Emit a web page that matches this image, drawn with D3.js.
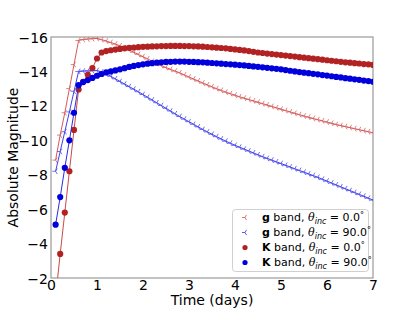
<!DOCTYPE html>
<html><head><meta charset="utf-8">
<script src="https://cdn.jsdelivr.net/npm/d3@7"></script>
<style>
body{margin:0;background:#fff;}
svg{display:block;font-family:"DejaVu Sans",sans-serif;}
</style></head>
<body><svg id="c" width="415" height="312"></svg>
<script>
const times = [0.1,0.2,0.3,0.4,0.5,0.6,0.7,0.8,0.9,1.0,1.1,1.2,1.3,1.4,1.5,1.6,1.7,1.8,1.9,2.0,
2.1,2.2,2.3,2.4,2.5,2.6,2.7,2.8,2.9,3.0,3.1,3.2,3.3,3.4,3.5,3.6,3.7,3.8,3.9,4.0,
4.1,4.2,4.3,4.4,4.5,4.6,4.7,4.8,4.9,5.0,5.1,5.2,5.3,5.4,5.5,5.6,5.7,5.8,5.9,6.0,
6.1,6.2,6.3,6.4,6.5,6.6,6.7,6.8,6.9,7.0];

const gBand0 = [-8.85,-10.3,-11.6,-13.0,-14.4,-15.8,-15.85,-15.88,-15.9,-15.92,
-15.85,-15.77,-15.68,-15.59,-15.49,-15.38,-15.25,-15.12,-14.99,-14.86,
-14.73,-14.59,-14.46,-14.34,-14.23,-14.12,-14.02,-13.92,-13.8,-13.68,
-13.56,-13.45,-13.33,-13.22,-13.11,-13.0,-12.9,-12.8,-12.71,-12.62,
-12.53,-12.45,-12.37,-12.29,-12.21,-12.13,-12.05,-11.97,-11.89,-11.81,
-11.73,-11.65,-11.57,-11.49,-11.41,-11.34,-11.27,-11.2,-11.13,-11.06,
-10.99,-10.92,-10.86,-10.8,-10.74,-10.68,-10.62,-10.56,-10.5,-10.44];

const gBand90 = [-8.2,-9.35,-10.5,-11.65,-12.85,-14.0,-14.02,-14.03,-14.04,-14.05,
-13.98,-13.86,-13.72,-13.57,-13.42,-13.27,-13.12,-12.97,-12.82,-12.66,
-12.5,-12.34,-12.18,-12.02,-11.86,-11.7,-11.54,-11.38,-11.23,-11.08,
-10.93,-10.78,-10.63,-10.49,-10.35,-10.21,-10.08,-9.95,-9.83,-9.71,
-9.6,-9.49,-9.38,-9.27,-9.16,-9.05,-8.95,-8.85,-8.75,-8.65,
-8.55,-8.45,-8.35,-8.25,-8.15,-8.05,-7.95,-7.85,-7.74,-7.63,
-7.52,-7.41,-7.3,-7.19,-7.08,-6.97,-6.86,-6.75,-6.64,-6.53];

const kBand0 = [-0.9,-3.4,-5.8,-8.2,-10.6,-12.95,-13.4,-13.8,-14.2,-14.75,
-15.1,-15.18,-15.23,-15.27,-15.31,-15.34,-15.37,-15.39,-15.41,-15.43,
-15.44,-15.45,-15.46,-15.47,-15.47,-15.48,-15.48,-15.48,-15.47,-15.47,
-15.46,-15.45,-15.44,-15.42,-15.4,-15.38,-15.36,-15.34,-15.31,-15.28,
-15.25,-15.22,-15.18,-15.14,-15.1,-15.07,-15.04,-15.01,-14.98,-14.95,
-14.92,-14.89,-14.86,-14.83,-14.8,-14.77,-14.74,-14.71,-14.68,-14.65,
-14.62,-14.59,-14.56,-14.53,-14.51,-14.48,-14.46,-14.43,-14.41,-14.38];

const kBand90 = [-5.1,-6.7,-8.4,-10.0,-11.6,-13.2,-13.38,-13.5,-13.62,-13.75,
-13.85,-13.94,-14.0,-14.06,-14.12,-14.19,-14.26,-14.32,-14.37,-14.41,
-14.45,-14.48,-14.51,-14.53,-14.55,-14.56,-14.57,-14.57,-14.57,-14.56,
-14.55,-14.54,-14.53,-14.51,-14.49,-14.47,-14.45,-14.43,-14.41,-14.39,
-14.37,-14.35,-14.32,-14.29,-14.27,-14.24,-14.21,-14.18,-14.15,-14.12,
-14.08,-14.04,-14.0,-13.96,-13.93,-13.9,-13.86,-13.83,-13.79,-13.76,
-13.72,-13.68,-13.65,-13.61,-13.58,-13.54,-13.51,-13.47,-13.44,-13.4];

const xTicks = [0,1,2,3,4,5,6,7];
const yTicks = [-16,-14,-12,-10,-8,-6,-4,-2];
const seriesNames = ["g band","g band","K band","K band"];
const seriesAngles = ["0.0","90.0","0.0","90.0"];

const svg = d3.select("#c");
const L = 51, R = 373, T = 37, B = 278;
const x = d3.scaleLinear().domain([0,7]).range([L,R]);
const y = d3.scaleLinear().domain([-16,-2]).range([T,B]);

svg.append("defs").append("clipPath").attr("id","clip")
  .append("rect").attr("x",L).attr("y",T).attr("width",R-L).attr("height",B-T);

// axes
const fmt = d => (d<0? "\u2212"+Math.abs(d) : String(d));
const xAxis = svg.append("g").attr("transform",`translate(0,${B})`)
  .call(d3.axisBottom(x).tickValues(xTicks).tickFormat(fmt).tickSize(0).tickPadding(2));
const yAxis = svg.append("g").attr("transform",`translate(${L},0)`)
  .call(d3.axisLeft(y).tickValues(yTicks).tickFormat(fmt).tickSize(0).tickPadding(3));
[xAxis,yAxis].forEach(a=>{
  a.select(".domain").remove();
  a.selectAll("text").attr("font-size",14).attr("fill","#000").attr("font-family","DejaVu Sans");
});
xAxis.selectAll("text").attr("dy","0.72em");
yAxis.selectAll("text").attr("dy","0.36em");

// frame
svg.append("rect").attr("x",L).attr("y",T).attr("width",R-L).attr("height",B-T)
  .attr("fill","none").attr("stroke","#999").attr("stroke-width",1.2);

const plot = svg.append("g").attr("clip-path","url(#clip)");
const line = d3.line().x(d=>x(d[0])).y(d=>y(d[1]));

const triPath = (s) => `M${-s},0L0,0M0,0L${s*0.5},${-s*0.866}M0,0L${s*0.5},${s*0.866}`;

const series = [
  {vals:gBand0, color:"#d86060", type:"tri"},
  {vals:gBand90, color:"#4a4aee", type:"tri"},
  {vals:kBand0, color:"#b22222", type:"circ"},
  {vals:kBand90, color:"#0000dd", type:"circ"}
];
const lineColors = ["#d45a5a","#4040e8","#c84a4a","#2a2ae6"];

series.forEach((s,i)=>{
  const pts = times.map((t,j)=>[t,s.vals[j]]);
  plot.append("path").datum(pts).attr("d",line).attr("fill","none")
    .attr("stroke",lineColors[i]).attr("stroke-width",1);
  if(s.type==="tri"){
    plot.selectAll(null).data(pts).enter().append("path")
      .attr("transform",d=>`translate(${x(d[0])},${y(d[1])})`)
      .attr("d",triPath(3.2)).attr("stroke",s.color).attr("stroke-width",0.8).attr("fill","none");
  } else {
    plot.selectAll(null).data(pts).enter().append("circle")
      .attr("cx",d=>x(d[0])).attr("cy",d=>y(d[1])).attr("r",3.1).attr("fill",s.color);
  }
});

// axis labels
svg.append("text").attr("x",(L+R)/2).attr("y",305).attr("text-anchor","middle")
  .attr("font-size",14).text("Time (days)");
svg.append("text").attr("transform",`translate(18,${(T+B)/2}) rotate(-90)`)
  .attr("text-anchor","middle").attr("font-size",14).text("Absolute Magnitude");

// legend
const lg = svg.append("g");
lg.append("rect").attr("x",232.5).attr("y",209.5).attr("width",136).attr("height",62).attr("rx",3)
  .attr("fill","#fff").attr("fill-opacity",0.85).attr("stroke","#d0d0d0");
const rowY = [217.5,232.5,247.5,262.5];
series.forEach((s,i)=>{
  const g = lg.append("g").attr("transform",`translate(245,${rowY[i]})`);
  if(s.type==="tri") g.append("path").attr("d",triPath(3)).attr("stroke",s.color).attr("stroke-width",0.9).attr("fill","none");
  else g.append("circle").attr("r",2.6).attr("fill",s.color);
  const parts = seriesNames[i].split(" ");
  const t = lg.append("text").attr("x",262).attr("y",rowY[i]).attr("dy","0.36em").attr("font-size",11);
  t.append("tspan").attr("font-weight","bold").text(parts[0]);
  t.append("tspan").text(" "+parts[1]+", ");
  t.append("tspan").attr("font-style","italic").attr("font-family","DejaVu Serif").text("\u03b8");
  t.append("tspan").attr("font-style","italic").attr("font-size",8).attr("dy","2.5").text("inc");
  t.append("tspan").attr("dy","-2.5").text(" = "+seriesAngles[i]);
  t.append("tspan").attr("font-size",8).attr("dy","-3").text("\u00b0");
});
</script></body></html>
